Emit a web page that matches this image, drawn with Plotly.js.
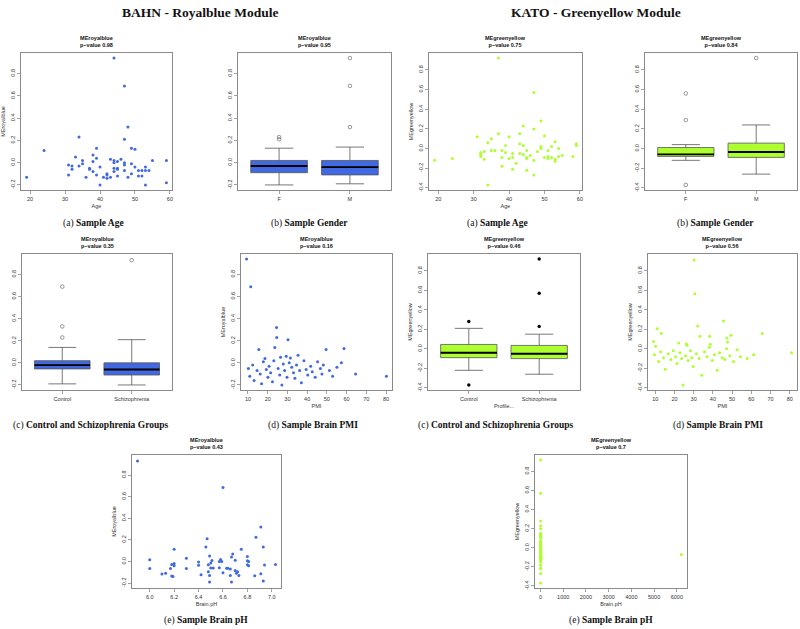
<!DOCTYPE html>
<html><head><meta charset="utf-8">
<script src="https://cdn.plot.ly/plotly-3.0.1.min.js"></script>
<style>html,body{margin:0;padding:0;background:#fff}#chart{width:800px;height:629px}</style>
</head><body><div id="chart"></div>
<script>
// ---------------- DATA ----------------
const headers = ['BAHN - Royalblue Module', 'KATO - Greenyellow Module'];
const bahnName = 'MEroyalblue';
const katoName = 'MEgreenyellow';
const bahnP = ['0.98', '0.95', '0.35', '0.16', '0.43'];
const katoP = ['0.75', '0.84', '0.46', '0.56', '0.7'];
const captions = ['(a) <b>Sample Age</b>', '(b) <b>Sample Gender</b>', '(c) <b>Control and Schizophrenia Groups</b>', '(d) <b>Sample Brain PMI</b>', '(e) <b>Sample Brain pH</b>'];

const sexGroups = ['F', 'M'];
const dxGroups = ['Control', 'Schizophrenia'];

// BAHN age scatter
const bahnAge = [19,24,31,31,32,32,33,34,34,35,35,36,37,37,38,38,39,39,38,39,40,40,41,42,42,42,43,43,44,44,44,44,44,45,45,45,45,46,47,47,47,47,47,48,48,49,49,49,50,50,51,51,52,52,53,53,53,54,55,59,59];
const bahnME = [-0.13,0.11,-0.02,-0.11,-0.03,-0.06,0.05,0.23,-0.03,0.02,-0.01,-0.13,-0.05,-0.06,0.07,0.01,0.13,0.04,-0.08,-0.11,-0.04,-0.20,-0.13,-0.10,-0.11,-0.14,0.03,-0.13,0.94,0.02,0.00,-0.05,-0.08,0.01,-0.05,-0.06,-0.12,0.03,0.69,0.21,0.00,-0.02,-0.07,0.32,-0.13,0.13,-0.01,-0.10,0.12,-0.04,-0.07,-0.12,-0.07,-0.12,-0.04,-0.07,-0.20,-0.07,0.02,0.02,-0.18];

// BAHN gender boxplot
const bahnSexQ1 = [-0.09, -0.11];
const bahnSexMed = [-0.03, -0.04];
const bahnSexQ3 = [0.02, 0.02];
const bahnSexLo = [-0.20, -0.19];
const bahnSexHi = [0.13, 0.14];
const bahnSexOutGroup = ['F', 'F', 'M', 'M', 'M'];
const bahnSexOutVal = [0.23, 0.21, 0.94, 0.69, 0.32];

// KATO age scatter
const katoAge = [19,24,31,32,32,32,33,33,34,34,35,35,36,37,37,38,38,38,39,39,40,40,41,41,41,42,43,43,43,44,44,44,45,45,45,45,46,47,47,47,47,48,49,49,49,50,50,51,51,51,52,52,53,53,53,54,54,55,58,59,59];
const katoME = [-0.12,-0.10,0.12,-0.04,-0.06,-0.08,-0.03,-0.11,0.06,-0.37,0.10,-0.02,-0.02,0.92,0.15,-0.02,-0.09,-0.18,0.03,-0.04,0.12,-0.10,-0.05,-0.09,-0.21,-0.15,0.15,0.05,-0.05,0.23,0.03,-0.06,-0.02,-0.09,-0.10,-0.22,-0.07,0.57,0.20,-0.12,-0.27,-0.03,0.28,0.02,0.00,0.13,-0.09,-0.02,-0.08,-0.10,0.02,-0.09,0.07,-0.11,-0.13,0.00,-0.08,-0.07,-0.08,0.05,0.03];

// KATO gender boxplot
const katoSexQ1 = [-0.08, -0.09];
const katoSexMed = [-0.06, -0.035];
const katoSexQ3 = [0.01, 0.055];
const katoSexLo = [-0.12, -0.26];
const katoSexHi = [0.04, 0.24];
const katoSexOutGroup = ['F', 'F', 'F', 'M'];
const katoSexOutVal = [0.56, 0.29, -0.37, 0.92];

// BAHN control / schizophrenia boxplot
const bahnDxQ1 = [-0.055, -0.11];
const bahnDxMed = [-0.02, -0.06];
const bahnDxQ3 = [0.02, 0.00];
const bahnDxLo = [-0.19, -0.20];
const bahnDxHi = [0.14, 0.21];
const bahnDxOutGroup = ['Control', 'Control', 'Control', 'Schizophrenia'];
const bahnDxOutVal = [0.69, 0.33, 0.23, 0.93];

// KATO control / schizophrenia boxplot
const katoDxQ1 = [-0.09, -0.10];
const katoDxMed = [-0.04, -0.05];
const katoDxQ3 = [0.045, 0.035];
const katoDxLo = [-0.22, -0.26];
const katoDxHi = [0.21, 0.15];
const katoDxOutGroup = ['Control', 'Control', 'Schizophrenia', 'Schizophrenia', 'Schizophrenia'];
const katoDxOutVal = [0.28, -0.37, 0.92, 0.57, 0.23];

// BAHN PMI scatter
const bahnPMI = [9.3,11.4,24.5,24.6,30.3,23.6,15.5,49.6,58.7,35.4,29.4,26.5,31.5,18.6,10.2,10.9,12.4,13.1,14.6,16.2,16.9,17.8,19.3,20.1,20.7,21.5,22.4,23.1,25.3,26.1,27.2,27.9,28.6,29.8,30.9,32.2,33.1,33.8,34.6,36.2,37.1,38.4,39.5,40.3,41.8,42.6,44.1,45.3,46.7,47.5,48.2,51.3,52.9,55.1,57.4,64.6,80.2];
const bahnPMIME = [0.94,0.69,0.32,0.23,0.21,0.14,0.12,0.12,0.13,0.07,0.06,0.05,0.045,0.04,-0.05,-0.12,-0.02,-0.16,-0.07,-0.1,-0.19,0.01,-0.06,-0.13,-0.03,-0.09,-0.17,0.02,-0.05,-0.11,-0.2,-0.01,-0.07,-0.13,0.0,-0.04,-0.09,-0.14,-0.02,-0.07,-0.18,0.02,-0.06,-0.11,-0.03,-0.08,-0.13,0.01,-0.05,-0.1,-0.02,-0.07,-0.12,-0.04,0.0,-0.1,-0.12];

// KATO PMI scatter
const katoPMI = [30.2,30.6,32.1,45.5,11.0,13.1,65.7,9.1,10.2,22.2,26.1,26.5,33.2,38.3,38.6,38.1,49.4,47.3,47.6,47.1,52.6,80.9,9.6,11.8,12.7,14.3,15.2,16.8,18.1,19.4,20.6,21.3,22.9,23.7,24.4,25.8,27.1,28.3,29.0,29.7,31.4,32.8,34.2,35.6,36.9,39.7,40.8,42.3,43.5,44.9,46.2,48.8,50.7,54.3,57.8,61.2];
const katoPMIME = [0.91,0.565,0.235,0.286,0.207,0.156,0.156,0.075,0.027,0.06,0.05,0.037,0.13,0.13,0.048,0.017,0.14,0.11,0.07,0.0,-0.01,-0.04,-0.06,-0.13,-0.03,-0.09,-0.21,-0.05,-0.11,-0.02,-0.08,-0.15,-0.04,-0.1,-0.37,-0.07,-0.12,-0.02,-0.09,-0.18,-0.05,-0.1,-0.27,-0.03,-0.08,-0.12,-0.06,-0.22,-0.04,-0.09,-0.11,-0.07,-0.13,-0.08,-0.1,-0.06];

// BAHN brain pH scatter
const bahnPH = [5.9,6.0,6.0,6.1,6.13,6.17,6.18,6.18,6.19,6.2,6.2,6.2,6.3,6.3,6.4,6.4,6.42,6.46,6.47,6.48,6.48,6.49,6.49,6.49,6.5,6.5,6.51,6.52,6.57,6.57,6.58,6.59,6.6,6.6,6.63,6.64,6.66,6.66,6.67,6.67,6.68,6.7,6.7,6.71,6.72,6.73,6.75,6.8,6.8,6.8,6.81,6.81,6.86,6.87,6.91,6.91,6.93,6.93,6.94,7.03];
const bahnPHME = [0.93,0.015,-0.066,-0.117,-0.11,-0.066,-0.027,-0.135,-0.14,0.114,-0.018,-0.04,0.03,-0.066,-0.006,-0.036,-0.123,0.135,0.21,-0.03,-0.096,-0.13,-0.19,0.05,-0.015,-0.06,0.009,-0.06,-0.057,0.0,0.018,0.0,0.685,-0.105,-0.063,-0.063,-0.13,-0.07,-0.19,0.042,0.07,0.012,-0.084,-0.108,-0.096,-0.13,0.114,0.045,0.006,-0.03,-0.04,0.0,-0.132,0.225,0.32,-0.114,-0.18,0.135,-0.033,-0.027];

// KATO brain pH scatter (y = katoME, same samples)
const katoPH = [6.3,6.1,6.6,6.4,6.2,6.5,6.7,6.3,6.8,6.1,6.5,6.6,6.2,6.4,6.9,6.3,6.7,6.5,6.2,6.6,6.4,6.8,6.1,6.5,6.3,6.7,6.6,6.2,6.4,6.9,6.5,6.3,6.6,6.1,6.7,6.4,6.2,6.8,6.5,6.3,6.6,6.4,6.7,6.2,6.5,6.9,6.3,6.6,6.1,6.4,6.8,6.5,6.2,6.7,6.3,6.6,6.4,6200,6.5,6.2,6.7];

// tick labels
const bahnYTicks = [-0.2, 0, 0.2, 0.4, 0.6, 0.8];
const bahnYText = ['-0.2', '0.0', '0.2', '0.4', '0.6', '0.8'];
const katoYTicks = [-0.4, -0.2, 0, 0.2, 0.4, 0.6, 0.8];
const katoYText = ['-0.4', '-0.2', '0.0', '0.2', '0.4', '0.6', '0.8'];
const ageTicks = [20, 30, 40, 50, 60];
const pmiTicks = [10, 20, 30, 40, 50, 60, 70, 80];
const bahnPHTicks = [6.0, 6.2, 6.4, 6.6, 6.8, 7.0];
const bahnPHText = ['6.0', '6.2', '6.4', '6.6', '6.8', '7.0'];
const katoPHTicks = [0, 1000, 2000, 3000, 4000, 5000, 6000];

// ---------------- STYLE / LAYOUT ----------------
const W = 800, H = 629;
const BLUE = '#4169E1', GREEN = '#ADFF2F';
const SANS = 'Liberation Sans, Arial, sans-serif';
const SERIF = 'Liberation Serif, DejaVu Serif, serif';
const lineCol = '#8a8a8a';
const tickFont = {family: SANS, size: 5.5, color: '#333'};

function xd(a, b) { return [a / W, b / W]; }
function yd(t, b) { return [1 - b / H, 1 - t / H]; }
function rRange(arr) { // R-style 4% padding
  const lo = Math.min(...arr), hi = Math.max(...arr), d = (hi - lo) * 0.04;
  return [lo - d, hi + d];
}
function axis(dom, range, tv, tt, title, isY) {
  const a = {
    domain: dom, range: range, tickmode: 'array', tickvals: tv, ticktext: tt || tv.map(String),
    showline: true, mirror: true, linecolor: lineCol, linewidth: 1,
    ticks: 'outside', ticklen: 3, tickwidth: 0.8, tickcolor: lineCol,
    tickfont: tickFont, showgrid: false, zeroline: false, fixedrange: true,
    title: {text: title || '', font: {family: SANS, size: 5.5, color: '#333'}, standoff: 3}
  };
  if (isY) a.tickangle = -90;
  return a;
}

// panel boxes in pixels [x0,x1,top,bottom]
const P = {
  1: [21, 172, 53, 190], 2: [238, 391, 53, 190], 3: [429, 582, 53, 190], 4: [645, 797, 53, 190],
  5: [22, 172, 254, 390], 6: [241, 392, 254, 390], 7: [428, 580, 254, 390], 8: [648, 797, 254, 390],
  9: [132, 281, 455, 588], 10: [535, 687, 455, 588]
};

const bahnYR = rRange(bahnME.concat(bahnSexOutVal));
const katoYR = rRange(katoME);
const boxXR = [0.42, 2.58];

const layout = {width: W, height: H, margin: {l: 0, r: 0, t: 0, b: 0}, showlegend: false,
  paper_bgcolor: '#fff', plot_bgcolor: '#fff', annotations: []};
const traces = [];

function ids(i) { return {xa: i === 1 ? 'x' : 'x' + i, ya: i === 1 ? 'y' : 'y' + i,
  xk: i === 1 ? 'xaxis' : 'xaxis' + i, yk: i === 1 ? 'yaxis' : 'yaxis' + i}; }

function setAxes(i, xr, xtv, xtt, xtitle, yr, ytv, ytt, ytitle) {
  const p = P[i], k = ids(i);
  layout[k.xk] = Object.assign(axis(xd(p[0], p[1]), xr, xtv, xtt, xtitle, false), {anchor: k.ya});
  layout[k.yk] = Object.assign(axis(yd(p[2], p[3]), yr, ytv, ytt, ytitle, true), {anchor: k.xa});
}
function title(i, name, pval) {
  const p = P[i];
  layout.annotations.push({xref: 'paper', yref: 'paper', x: (p[0] + p[1]) / 2 / W, y: 1 - (p[2] - 3) / H,
    xanchor: 'center', yanchor: 'bottom', showarrow: false,
    text: '<b>' + name + '</b><br><b>p\u2212value ' + pval + '</b>',
    font: {family: SANS, size: 5.5, color: '#111'}});
}
function scatter(i, x, y, color) {
  const k = ids(i);
  traces.push({type: 'scatter', mode: 'markers', x: x, y: y, xaxis: k.xa, yaxis: k.ya,
    marker: {color: color, size: 3, line: {width: 0}}, hoverinfo: 'skip'});
}
function boxes(i, groups, q1, med, q3, lo, hi, outG, outV, fill, outFilled) {
  const k = ids(i);
  const pos = groups.map((g, j) => j + 1);
  traces.push({type: 'box', x: pos, q1: q1, median: med, q3: q3, lowerfence: lo, upperfence: hi,
    xaxis: k.xa, yaxis: k.ya, width: 0.8, whiskerwidth: 0.5, fillcolor: fill,
    line: {color: '#555', width: 0.8}, boxpoints: false, hoverinfo: 'skip'});
  // thick median line
  const mx = [], my = [];
  pos.forEach((p, j) => { mx.push(p - 0.4, p + 0.4, null); my.push(med[j], med[j], null); });
  traces.push({type: 'scatter', mode: 'lines', x: mx, y: my, xaxis: k.xa, yaxis: k.ya,
    line: {color: '#000', width: 1.8}, hoverinfo: 'skip'});
  traces.push({type: 'scatter', mode: 'markers', x: outG.map(g => groups.indexOf(g) + 1), y: outV,
    xaxis: k.xa, yaxis: k.ya, hoverinfo: 'skip',
    marker: outFilled ? {color: '#000', size: 3.4, symbol: 'circle'}
                      : {color: '#555', size: 3.6, symbol: 'circle-open', line: {width: 0.6, color: '#555'}}});
}
function caption(text, xc, yc) {
  layout.annotations.push({xref: 'paper', yref: 'paper', x: xc / W, y: 1 - yc / H, xanchor: 'center', yanchor: 'middle',
    showarrow: false, text: text, font: {family: SERIF, size: 9.5, color: '#111'}});
}

// Row 1
setAxes(1, rRange(bahnAge), ageTicks, null, 'Age', bahnYR, bahnYTicks, bahnYText, bahnName);
scatter(1, bahnAge, bahnME, BLUE); title(1, bahnName, bahnP[0]);

setAxes(2, boxXR, [1, 2], sexGroups, '', bahnYR, bahnYTicks, bahnYText, '');
boxes(2, sexGroups, bahnSexQ1, bahnSexMed, bahnSexQ3, bahnSexLo, bahnSexHi, bahnSexOutGroup, bahnSexOutVal, BLUE, false);
title(2, bahnName, bahnP[1]);

setAxes(3, rRange(katoAge), ageTicks, null, 'Age', katoYR, katoYTicks, katoYText, katoName);
scatter(3, katoAge, katoME, GREEN); title(3, katoName, katoP[0]);

setAxes(4, boxXR, [1, 2], sexGroups, '', katoYR, katoYTicks, katoYText, '');
boxes(4, sexGroups, katoSexQ1, katoSexMed, katoSexQ3, katoSexLo, katoSexHi, katoSexOutGroup, katoSexOutVal, GREEN, false);
title(4, katoName, katoP[1]);

// Row 2
setAxes(5, boxXR, [1, 2], dxGroups, '', bahnYR, bahnYTicks, bahnYText, '');
boxes(5, dxGroups, bahnDxQ1, bahnDxMed, bahnDxQ3, bahnDxLo, bahnDxHi, bahnDxOutGroup, bahnDxOutVal, BLUE, false);
title(5, bahnName, bahnP[2]);

setAxes(6, rRange(bahnPMI), pmiTicks, null, 'PMI', bahnYR, bahnYTicks, bahnYText, bahnName);
scatter(6, bahnPMI, bahnPMIME, BLUE); title(6, bahnName, bahnP[3]);

setAxes(7, boxXR, [1, 2], dxGroups, 'Profile...', katoYR, katoYTicks, katoYText, katoName);
boxes(7, dxGroups, katoDxQ1, katoDxMed, katoDxQ3, katoDxLo, katoDxHi, katoDxOutGroup, katoDxOutVal, GREEN, true);
title(7, katoName, katoP[2]);

setAxes(8, rRange(katoPMI), pmiTicks, null, 'PMI', katoYR, katoYTicks, katoYText, katoName);
scatter(8, katoPMI, katoPMIME, GREEN); title(8, katoName, katoP[3]);

// Row 3
setAxes(9, rRange(bahnPH), bahnPHTicks, bahnPHText, 'Brain.pH', bahnYR, bahnYTicks, bahnYText, bahnName);
scatter(9, bahnPH, bahnPHME, BLUE); title(9, bahnName, bahnP[4]);

setAxes(10, rRange(katoPH), katoPHTicks, null, 'Brain.pH', katoYR, katoYTicks, katoYText, katoName);
scatter(10, katoPH, katoME, GREEN); title(10, katoName, katoP[4]);

// captions
caption(captions[0], 93, 224); caption(captions[1], 309, 224);
caption(captions[0], 497, 224); caption(captions[1], 715, 224);
caption(captions[2], 90, 425); caption(captions[3], 313, 425);
caption(captions[2], 495, 425); caption(captions[3], 718, 425);
caption(captions[4], 206, 620); caption(captions[4], 611, 620);

// headers
layout.annotations.push({xref: 'paper', yref: 'paper', x: 200 / W, y: 1 - 12 / H, xanchor: 'center', yanchor: 'middle',
  showarrow: false, text: '<b>' + headers[0] + '</b>', font: {family: SERIF, size: 13.5, color: '#111'}});
layout.annotations.push({xref: 'paper', yref: 'paper', x: 596 / W, y: 1 - 12 / H, xanchor: 'center', yanchor: 'middle',
  showarrow: false, text: '<b>' + headers[1] + '</b>', font: {family: SERIF, size: 13.5, color: '#111'}});

Plotly.newPlot('chart', traces, layout, {staticPlot: true, displayModeBar: false});
</script>
</body></html>
